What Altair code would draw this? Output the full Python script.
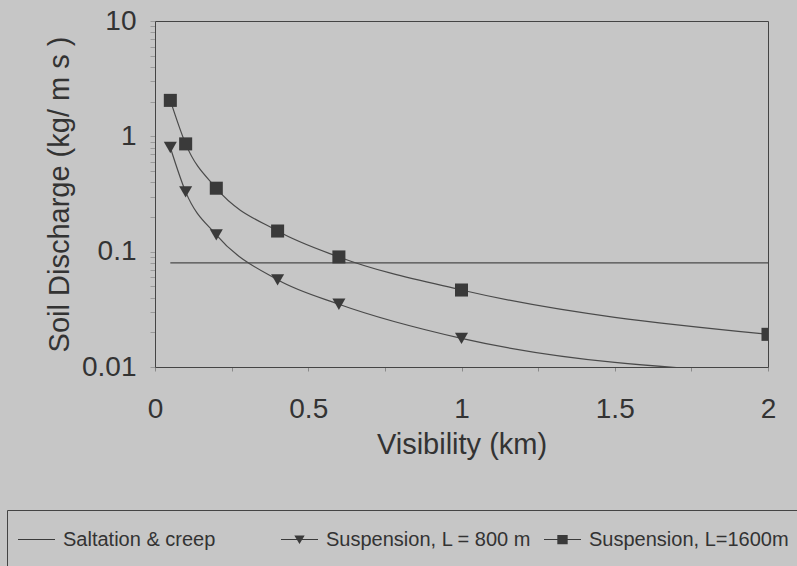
import altair as alt
import pandas as pd

# ---- data ----
vis_km = [0.05, 0.1, 0.2, 0.4, 0.6, 1.0, 2.0]
saltation = [0.08, 0.08, 0.08, 0.08, 0.08, 0.08, 0.08]
susp_800 = [0.80, 0.33, 0.14, 0.057, 0.035, 0.0177, 0.0088]
susp_1600 = [2.05, 0.86, 0.355, 0.151, 0.090, 0.0465, 0.0192]
series_names = ["Saltation & creep", "Suspension, L = 800 m", "Suspension, L=1600m"]
x_tick_values = [0, 0.25, 0.5, 0.75, 1, 1.25, 1.5, 1.75, 2]
x_tick_labels = [0, 0.5, 1, 1.5, 2]
y_tick_labels = [0.01, 0.1, 1, 10]
y_minor = [0.02, 0.03, 0.04, 0.05, 0.06, 0.07, 0.08, 0.09,
           0.2, 0.3, 0.4, 0.5, 0.6, 0.7, 0.8, 0.9,
           2, 3, 4, 5, 6, 7, 8, 9]

rows = []
for name, vals in zip(series_names, [saltation, susp_800, susp_1600]):
    for xv, yv in zip(vis_km, vals):
        rows.append({"series": name, "vis": xv, "q": yv})
df = pd.DataFrame(rows)

FONT = "Liberation Sans"
INK = "#333333"
LINE = "#4a4a4a"
MARK = "#3a3a3a"

x_enc = alt.X(
    "vis:Q",
    scale=alt.Scale(domain=[0, 2], nice=False, zero=False),
    axis=alt.Axis(
        title="Visibility (km)",
        values=x_tick_values,
        format="~g",
        labelExpr="indexof([0,0.5,1,1.5,2], datum.value) >= 0 ? datum.label : ''",
        labelOverlap=False,
        labelFlush=False,
        tickSize=4,
        tickColor="#8a8a8a",
        labelPadding=24,
        titlePadding=7,
    ),
)
y_enc = alt.Y(
    "q:Q",
    scale=alt.Scale(type="log", domain=[0.01, 10], nice=False),
    axis=alt.Axis(
        title="Soil Discharge (kg/ m s )",
        values=sorted(y_tick_labels + y_minor),
        format="~g",
        labelExpr="indexof([0.01,0.1,1,10], datum.value) >= 0 ? datum.label : ''",
        labelOverlap=False,
        labelFlush=False,
        tickSize=5,
        tickColor="#9a9a9a",
        labelPadding=14,
        titlePadding=7,
    ),
)

# legend symbols: a short (filled, thin) line with the series marker on it;
# the zero-length sub-paths only make each legend row taller
legend_paths = [
    "M0,-1L0,-1M0,1L0,1M-1,-0.03H1V0.03H-1Z",
    "M0,-1L0,-1M0,1L0,1M-1,-0.03H1V0.03H-1ZM-0.28,-0.22H0.28L0,0.24Z",
    "M0,-1L0,-1M0,1L0,1M-1,-0.03H1V0.03H-1ZM-0.28,-0.25H0.28V0.25H-0.28Z",
]

lines = alt.Chart(df).mark_line(
    interpolate="monotone", clip=True, strokeWidth=1.2, color=LINE
).encode(x=x_enc, y=y_enc, detail="series:N")

points = (
    alt.Chart(df)
    .transform_filter(alt.datum.series != "Saltation & creep")
    .mark_point(filled=True, clip=True, size=170, color=MARK, opacity=1)
    .encode(
        x=x_enc,
        y=y_enc,
        shape=alt.Shape(
            "series:N",
            scale=alt.Scale(domain=series_names[1:], range=["triangle-down", "square"]),
            legend=None,
        ),
    )
)

legend_layer = (
    alt.Chart(df)
    .mark_point(filled=True, clip=True, size=1, fill=MARK, opacity=0)
    .encode(
        x=x_enc,
        y=y_enc,
        shape=alt.Shape(
            "series:N",
            scale=alt.Scale(domain=series_names, range=legend_paths),
            legend=alt.Legend(
                title=None,
                orient="none",
                legendX=-148,
                legendY=489,
                direction="horizontal",
                columns=3,
                gridAlign="all",
                symbolSize=1369,
                symbolOpacity=1,
                symbolFillColor=MARK,
                labelFont=FONT,
                labelFontSize=20,
                labelColor=INK,
                labelOffset=7,
                labelLimit=400,
                columnPadding=9,
                padding=10,
                strokeColor="#444444",
                cornerRadius=0,
            ),
        ),
    )
)

chart = (
    alt.layer(lines, points, legend_layer)
    .resolve_scale(shape="independent")
    .properties(
        width=613,
        height=346,
        background="#c6c6c6",
        padding={"left": 155, "top": 21, "right": 29, "bottom": 199},
        autosize=alt.AutoSizeParams(type="none"),
    )
    .configure_view(stroke="#444444", strokeWidth=1, fill=None)
    .configure_axis(
        domainColor="#444444",
        domainWidth=1,
        grid=False,
        labelFont=FONT,
        labelFontSize=28,
        labelColor=INK,
        titleFont=FONT,
        titleFontSize=29,
        titleFontWeight="normal",
        titleColor=INK,
    )
)

chart.save("out.html", embed_options={"renderer": "svg", "actions": False})
